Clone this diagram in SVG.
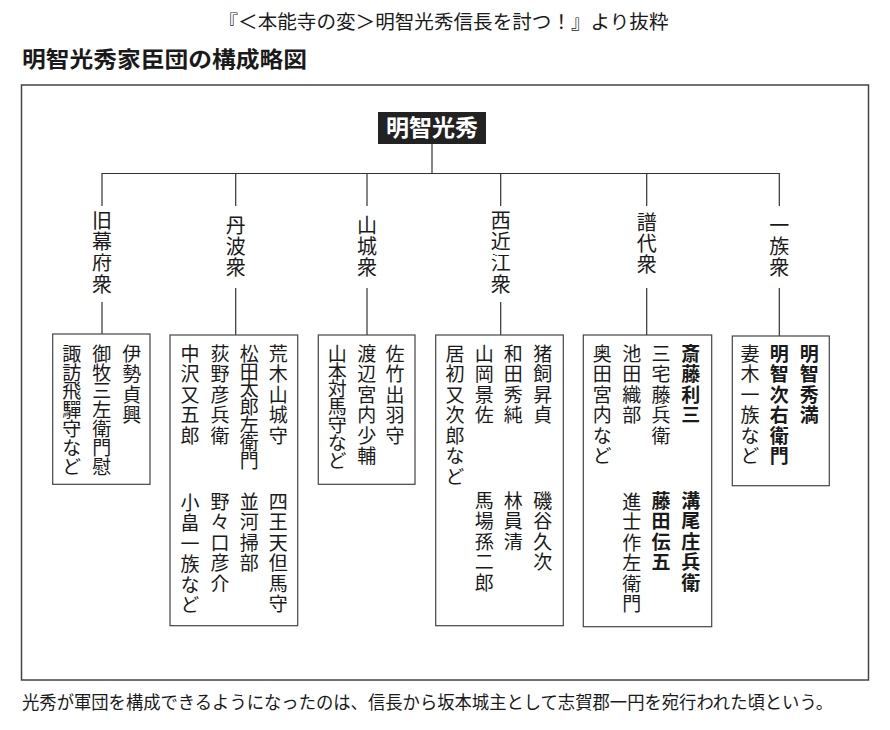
<svg xmlns="http://www.w3.org/2000/svg" width="890" height="730" viewBox="0 0 890 730">
<style>
text { font-family: "Noto Sans CJK JP", "Noto Sans CJK SC", sans-serif; fill: #1a1a1a; }
.t1 { font-size: 19px; }
.t2 { font-size: 22px; font-weight: bold; }
.foot { font-size: 18px; }
.v { writing-mode: vertical-rl; font-size: 19px; letter-spacing: 1.5px; }
.s7 { letter-spacing: -0.2px; }
.s7c { letter-spacing: -1.2px; }
.b { font-weight: bold; }
.lbl { writing-mode: vertical-rl; font-size: 20px; letter-spacing: 1.2px; }
.box { fill: #fff; stroke: #444; stroke-width: 1.2; }
.frame { fill: none; stroke: #444; stroke-width: 1.5; }
.conn line { stroke: #333; stroke-width: 1.2; }
.root rect { fill: #222; }
.root text { fill: #fff; font-size: 23px; font-weight: bold; }
</style>
<rect width="890" height="730" fill="#fff"/>
<text class="t1" x="218.5" y="29" textLength="450" lengthAdjust="spacingAndGlyphs">『＜本能寺の変＞明智光秀信長を討つ！』より抜粋</text>
<text class="t2" x="22" y="67" textLength="285" lengthAdjust="spacingAndGlyphs">明智光秀家臣団の構成略図</text>
<rect class="frame" x="21.5" y="85" width="847" height="595"/>
<text class="foot" x="22" y="708.5" textLength="811" lengthAdjust="spacingAndGlyphs">光秀が軍団を構成できるようになったのは、信長から坂本城主として志賀郡一円を宛行われた頃という。</text>

<g class="conn" id="connectors">
<line x1="432" y1="144" x2="432" y2="173.5"/>
<line x1="102" y1="173.5" x2="779.5" y2="173.5"/>
<line x1="102" y1="173" x2="102" y2="206"/>
<line x1="235.7" y1="173" x2="235.7" y2="206"/>
<line x1="367" y1="173" x2="367" y2="206"/>
<line x1="500.7" y1="173" x2="500.7" y2="206"/>
<line x1="646.7" y1="173" x2="646.7" y2="206"/>
<line x1="779.3" y1="173" x2="779.3" y2="206"/>
<line x1="102" y1="302" x2="102" y2="334"/>
<line x1="235.7" y1="288" x2="235.7" y2="335"/>
<line x1="367" y1="288" x2="367" y2="335"/>
<line x1="500.7" y1="302" x2="500.7" y2="335"/>
<line x1="646.7" y1="288" x2="646.7" y2="335"/>
<line x1="779.3" y1="288" x2="779.3" y2="336"/>
</g>

<g class="root" id="akechi">
<rect x="378" y="112" width="108" height="32"/>
<text x="432" y="135.5" text-anchor="middle">明智光秀</text>
</g>

<g id="lbl-kyubakufu"><text class="lbl" x="102" y="210.5">旧幕府衆</text></g>
<g id="lbl-tamba"><text class="lbl" x="235.7" y="215">丹波衆</text></g>
<g id="lbl-yamashiro"><text class="lbl" x="367" y="215">山城衆</text></g>
<g id="lbl-nishiomi"><text class="lbl" x="500.7" y="210.5">西近江衆</text></g>
<g id="lbl-fudai"><text class="lbl" x="646.7" y="212">譜代衆</text></g>
<g id="lbl-ichizoku"><text class="lbl" x="779.3" y="215">一族衆</text></g>

<g id="box-kyubakufu">
<rect class="box" x="52.7" y="334" width="97.3" height="150.3"/>
<text class="v" x="131.7" y="344">伊勢貞興</text>
<text class="v s7" x="101.7" y="344">御牧三左衛門慰</text>
<text class="v s7" x="71.7" y="344">諏訪飛驒守など</text>
</g>

<g id="box-tamba">
<rect class="box" x="170" y="335" width="127.7" height="290.7"/>
<text class="v" x="278.3" y="344">荒木山城守</text>
<text class="v s7c" x="249.3" y="344">松田太郎左衛門</text>
<text class="v" x="220" y="344">荻野彦兵衛</text>
<text class="v" x="190" y="344">中沢又五郎</text>
<text class="v" x="278.3" y="492">四王天但馬守</text>
<text class="v" x="249.3" y="492">並河掃部</text>
<text class="v" x="220" y="492">野々口彦介</text>
<text class="v" x="190" y="493">小畠一族など</text>
</g>

<g id="box-yamashiro">
<rect class="box" x="318.3" y="335" width="96.7" height="149.3"/>
<text class="v" x="395" y="344">佐竹出羽守</text>
<text class="v" x="366.7" y="344">渡辺宮内少輔</text>
<text class="v s7c" x="337.3" y="344">山本対馬守など</text>
</g>

<g id="box-nishiomi">
<rect class="box" x="435.7" y="335" width="127.6" height="290.7"/>
<text class="v" x="542.7" y="344">猪飼昇貞</text>
<text class="v" x="513.3" y="344">和田秀純</text>
<text class="v" x="484.3" y="344">山岡景佐</text>
<text class="v" x="455" y="344">居初又次郎など</text>
<text class="v" x="542.7" y="491">磯谷久次</text>
<text class="v" x="513.3" y="491">林員清</text>
<text class="v" x="484.3" y="491">馬場孫二郎</text>
</g>

<g id="box-fudai">
<rect class="box" x="583.3" y="335" width="128.4" height="291.7"/>
<text class="v b" x="690.7" y="344">斎藤利三</text>
<text class="v" x="661" y="344">三宅藤兵衛</text>
<text class="v" x="631.7" y="344">池田織部</text>
<text class="v" x="602.3" y="344">奥田宮内など</text>
<text class="v b" x="690.7" y="491">溝尾庄兵衛</text>
<text class="v b" x="661" y="491">藤田伝五</text>
<text class="v" x="631.7" y="492">進士作左衛門</text>
</g>

<g id="box-ichizoku">
<rect class="box" x="732.3" y="336" width="97" height="149.7"/>
<text class="v b" x="809.3" y="344">明智秀満</text>
<text class="v b" x="779.3" y="344">明智次右衛門</text>
<text class="v" x="750" y="344">妻木一族など</text>
</g>
</svg>
